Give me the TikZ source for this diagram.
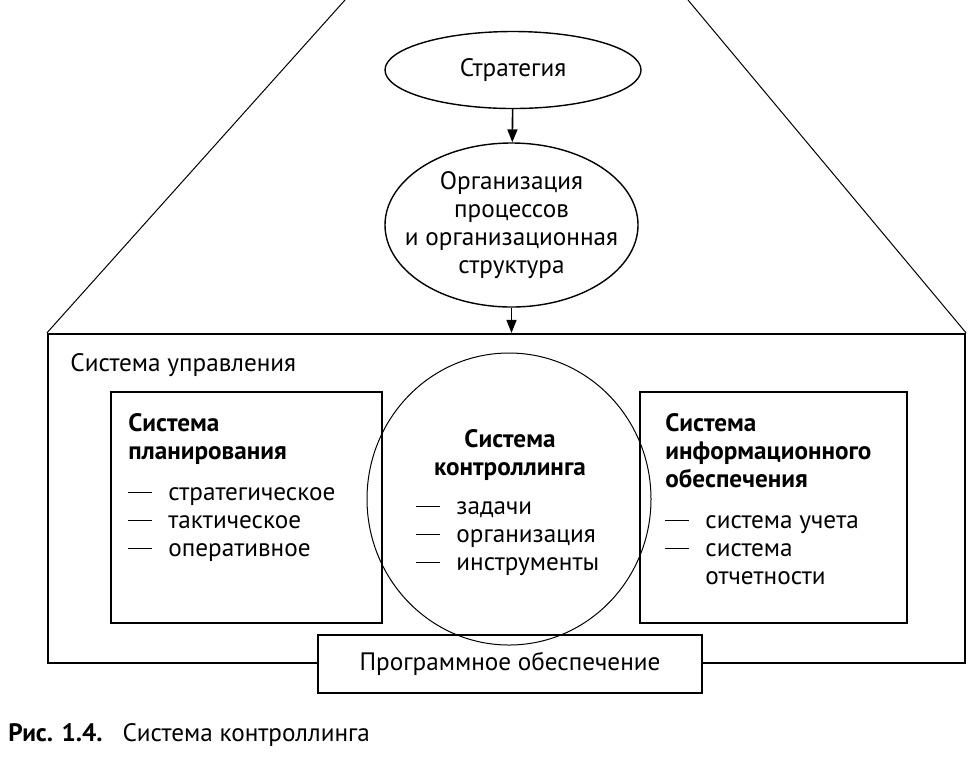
\documentclass[tikz,border=0pt]{standalone}
\usepackage{fontspec}
\setmainfont{PT Sans}
\usetikzlibrary{positioning, arrows.meta, shapes, fit}
\newcommand\listdash{\rule[3.4pt]{12pt}{0.75pt}}

\begin{document}
\begin{tikzpicture}[x=0.5pt, y=-0.5pt, font=\fontsize{12.6}{14}\selectfont,
    frame/.style={draw, line width=1.1pt, inner sep=0pt},
    oval/.style={ellipse, draw, line width=0.7pt, inner sep=0pt},
    flow/.style={-{Triangle[length=6.5pt, width=5pt]}, line width=0.8pt},
    txt/.style={inner sep=0pt, anchor=base west}]
  \useasboundingbox (0,0) rectangle (968,768);

  % Outer frame (management system) and the funnel lines
  \node (mgmt) [frame, fit={(48,334) (965,663)}] {};
  \coordinate (apexL) at (345,0);
  \coordinate (apexR) at (688,0);
  \draw[line width=0.5pt] (apexL) -- (mgmt.north west);
  \draw[line width=0.5pt] (apexR) -- (mgmt.north east);
  \node (mgmtlbl) at (70,371) [txt] {Система управления};

  % Ellipses above the frame
  \node (strat) at (513,70) [oval, minimum width=128pt, minimum height=38.5pt] {};
  \node (strattxt) at (strat.center) {Стратегия};
  \node (org) at (511.5,225) [oval, minimum width=126.5pt, minimum height=82pt] {};
  \node (orgtxt) at (org.center) [align=center] {Организация\\процессов\\и организационная\\структура};
  \draw[flow] (strat) -- (org);
  \draw[flow] (org) -- (org |- mgmt.north);

  % Software box over the bottom edge of the frame
  \node (soft) [frame, fill=white, fit={(318,635) (702,693)}] {};
  \node (softlbl) at (soft.center) {Программное обеспечение};

  % Inner boxes and the controlling circle
  \node (plan) [frame, fit={(111,392) (382,623)}] {};
  \node (info) [frame, fit={(640,392) (907,623)}] {};
  \node (ctrl) at (509,499) [ellipse, draw, line width=0.5pt, minimum width=142pt, minimum height=146pt] {};

  % Texts inside the boxes
  \node (plantxt) at (128,431) [txt] {\begin{tabular}[t]{@{}l@{\hspace{8pt}}l@{}}
    \multicolumn{2}{@{}l@{}}{\bfseries Система}\\
    \multicolumn{2}{@{}l@{}}{\bfseries планирования}\\[6.5pt]
    \listdash & стратегическое\\
    \listdash & тактическое\\
    \listdash & оперативное
  \end{tabular}};
  \node (ctrlhead) at (510,447) [inner sep=0pt, anchor=base] {\begin{tabular}[t]{@{}c@{}}
    \bfseries Система\\ \bfseries контроллинга
  \end{tabular}};
  \node (ctrltxt) at (416,514) [txt] {\begin{tabular}[t]{@{}l@{\hspace{8pt}}l@{}}
    \listdash & задачи\\
    \listdash & организация\\
    \listdash & инструменты
  \end{tabular}};
  \node (infotxt) at (665,431) [txt] {\begin{tabular}[t]{@{}l@{\hspace{8pt}}l@{}}
    \multicolumn{2}{@{}l@{}}{\bfseries Система}\\
    \multicolumn{2}{@{}l@{}}{\bfseries информационного}\\
    \multicolumn{2}{@{}l@{}}{\bfseries обеспечения}\\[6.5pt]
    \listdash & система учета\\
    \listdash & система\\
      & отчетности
  \end{tabular}};

  % Caption
  \node (caption) at (8,741) [txt] {\textbf{Рис. 1.4.}\hspace{10pt}Система контроллинга};
\end{tikzpicture}
\end{document}
